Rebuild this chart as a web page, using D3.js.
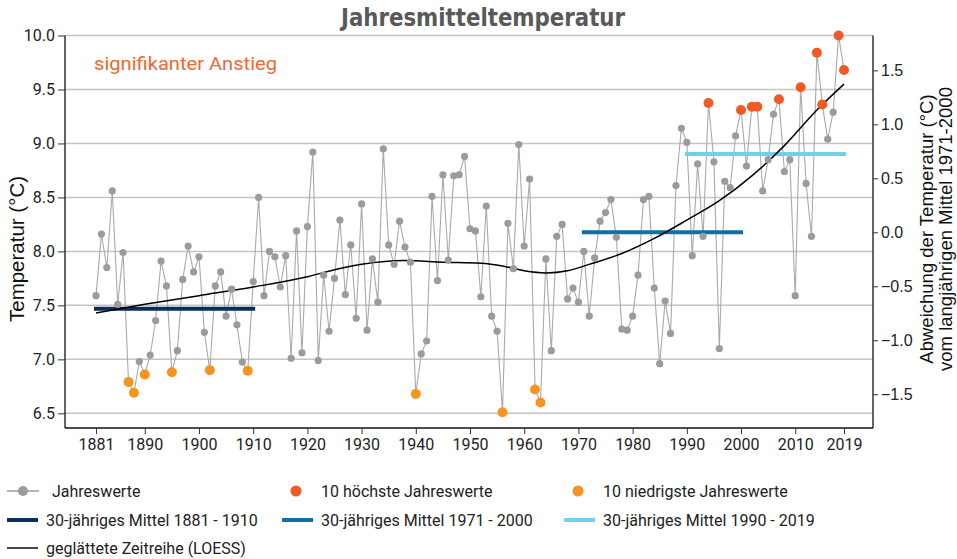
<!DOCTYPE html>
<html>
<head>
<meta charset="utf-8">
<script src="https://cdn.jsdelivr.net/npm/d3@7"></script>
<style>
  body { margin: 0; background: #fff; }
  text { font-family: Roboto, "Liberation Sans", sans-serif; }
</style>
</head>
<body>
<svg id="chart" width="957" height="559"></svg>
<script>
// yearly mean temperature, 1881 - 2019
let firstYear = 1881;
let temps = [
	7.59, 8.16, 7.85, 8.56, 7.51, 7.99, 6.79, 6.69, 6.98, 6.86,
	7.04, 7.36, 7.91, 7.68, 6.88, 7.08, 7.74, 8.05, 7.81, 7.95,
	7.25, 6.90, 7.68, 7.81, 7.40, 7.65, 7.32, 6.975, 6.895, 7.72,
	8.50, 7.59, 8.00, 7.95, 7.67, 7.96, 7.01, 8.19, 7.06, 8.23,
	8.92, 6.99, 7.78, 7.26, 7.75, 8.29, 7.60, 8.06, 7.38, 8.44,
	7.27, 7.93, 7.53, 8.95, 8.06, 7.88, 8.28, 8.04, 7.90, 6.68,
	7.05, 7.17, 8.51, 7.73, 8.71, 7.92, 8.70, 8.71, 8.88, 8.21,
	8.19, 7.58, 8.42, 7.40, 7.26, 6.51, 8.26, 7.84, 8.99, 8.05,
	8.67, 6.72, 6.60, 7.93, 7.08, 8.14, 8.25, 7.56, 7.66, 7.53,
	8.00, 7.40, 7.94, 8.28, 8.36, 8.48, 8.13, 7.28, 7.27, 7.40,
	7.78, 8.48, 8.51, 7.66, 6.96, 7.54, 7.24, 8.61, 9.14, 9.01,
	7.96, 8.81, 8.14, 9.375, 8.83, 7.10, 8.65, 8.59, 9.07, 9.31,
	8.79, 9.34, 9.34, 8.56, 8.85, 9.27, 9.41, 8.74, 8.85, 7.59,
	9.52, 8.63, 8.14, 9.84, 9.36, 9.04, 9.29, 10.0, 9.68
];

// smoothed series (LOESS)
let loessYears = [1881, 1890, 1900, 1910, 1920, 1925, 1930, 1938, 1945, 1952, 1956, 1960,
	1964, 1968, 1972, 1978, 1984, 1990, 1996, 2002, 2008, 2014, 2019];
let loessTemps = [7.43, 7.51, 7.59, 7.67, 7.765, 7.83, 7.88, 7.915, 7.90, 7.89, 7.865, 7.82,
	7.80, 7.82, 7.88, 7.98, 8.12, 8.29, 8.47, 8.70, 8.98, 9.31, 9.55];

let periods = [[1881, 1910], [1971, 2000], [1990, 2019]];
let periodColors = ["#0b2d5e", "#0f6fa6", "#6fd0f2"];
let refPeriod = 1; // 1971-2000 is the reference for the right axis

let xTicks = [1881, 1890, 1900, 1910, 1920, 1930, 1940, 1950, 1960, 1970, 1980, 1990, 2000, 2010, 2019];
let leftTicks = [6.5, 7.0, 7.5, 8.0, 8.5, 9.0, 9.5, 10.0];
let rightTicks = [-1.5, -1.0, -0.5, 0.0, 0.5, 1.0, 1.5];

let colGray = "#9b9b9d";
let colHigh = "#f15a24";
let colLow = "#f7931e";

let data = temps.map((t, i) => ({ year: firstYear + i, t: t }));
let sorted = data.slice().sort((a, b) => a.t - b.t);
let lowest = new Set(sorted.slice(0, 10).map(d => d.year));
let highest = new Set(sorted.slice(-10).map(d => d.year));

let means = periods.map(p => d3.mean(data.filter(d => d.year >= p[0] && d.year <= p[1]), d => d.t));
let refMean = means[refPeriod];

let plot = { left: 65, right: 873, top: 35.5, bottom: 428 };

let x = d3.scaleLinear().domain([1875.28, 2024.35]).range([plot.left, plot.right]);
let y = d3.scaleLinear().domain([6.364, 10.0]).range([plot.bottom, plot.top]);
let yr = d3.scaleLinear().domain([6.364 - refMean, 10.0 - refMean]).range([plot.bottom, plot.top]);

let svg = d3.select("#chart");

// title
svg.append("text")
	.attr("x", 483).attr("y", 26)
	.attr("text-anchor", "middle")
	.style("font-family", "'Liberation Sans Narrow', 'DejaVu Sans Condensed', Roboto, sans-serif")
	.style("font-weight", "bold")
	.style("font-size", "24px")
	.attr("textLength", 284).attr("lengthAdjust", "spacingAndGlyphs")
	.attr("fill", "#58595b")
	.text("Jahresmitteltemperatur");

// grid
svg.append("g").selectAll("line")
	.data(leftTicks)
	.enter().append("line")
	.attr("x1", plot.left).attr("x2", plot.right)
	.attr("y1", d => y(d)).attr("y2", d => y(d))
	.attr("stroke", "#c4c4c4")
	.attr("stroke-width", 1.5);

// axes
let axL = svg.append("g")
	.attr("transform", "translate(" + plot.left + ",0)")
	.call(d3.axisLeft(y).tickValues(leftTicks).tickFormat(d3.format(".1f")).tickSizeOuter(0).tickSize(7).tickPadding(3));
let axR = svg.append("g")
	.attr("transform", "translate(" + plot.right + ",0)")
	.call(d3.axisRight(yr).tickValues(rightTicks).tickFormat(d3.format(".1f")).tickSizeOuter(0).tickSize(5).tickPadding(3));
let axB = svg.append("g")
	.attr("transform", "translate(0," + plot.bottom + ")")
	.call(d3.axisBottom(x).tickValues(xTicks).tickFormat(d3.format("d")).tickSizeOuter(0).tickSize(6).tickPadding(5));

[axL, axB].forEach(a => {
	a.selectAll("text").style("font-size", "16px").style("font-family", "Roboto, sans-serif").attr("fill", "#222");
});
axR.selectAll("text").style("font-size", "16px").style("font-family", "'Liberation Sans', Arial, sans-serif").attr("fill", "#222");
[axL, axR, axB].forEach(a => {
	a.select(".domain").attr("stroke", "#111").attr("stroke-width", 1.3);
	a.selectAll(".tick line").attr("stroke", "#333");
});
// domain lines span the full plot
axL.select(".domain").attr("d", "M0," + plot.top + "V" + plot.bottom);
axR.select(".domain").attr("d", "M0," + plot.top + "V" + plot.bottom);
axB.select(".domain").attr("d", "M" + plot.left + ",0H" + plot.right);

// axis titles
svg.append("text")
	.attr("transform", "translate(24,249) rotate(-90)")
	.attr("text-anchor", "middle")
	.style("font-family", "'Liberation Sans', Arial, sans-serif")
	.style("font-size", "20.5px")
	.attr("fill", "#111")
	.text("Temperatur (°C)");
let rt = svg.append("text")
	.attr("transform", "translate(933,229) rotate(-90)")
	.attr("text-anchor", "middle")
	.style("font-family", "'Liberation Sans', Arial, sans-serif")
	.style("font-size", "18.5px")
	.attr("fill", "#111");
rt.append("tspan").attr("x", 0).attr("dy", 0).text("Abweichung der Temperatur (°C)");
rt.append("tspan").attr("x", 0).attr("dy", 19).text("vom langjährigen Mittel 1971-2000");

// note
svg.append("text")
	.attr("x", 94).attr("y", 70)
	.style("font-size", "18px")
	.attr("textLength", 183).attr("lengthAdjust", "spacingAndGlyphs")
	.attr("fill", "#f26632")
	.text("signifikanter Anstieg");

// yearly series line
svg.append("path")
	.datum(data)
	.attr("d", d3.line().x(d => x(d.year)).y(d => y(d.t)))
	.attr("fill", "none")
	.attr("stroke", "#aaaaab")
	.attr("stroke-width", 1.1);

// 30-year means
svg.append("g").selectAll("line")
	.data(periods)
	.enter().append("line")
	.attr("x1", d => x(d[0])).attr("x2", d => x(d[1]))
	.attr("y1", (d, i) => y(means[i])).attr("y2", (d, i) => y(means[i]))
	.attr("stroke", (d, i) => periodColors[i])
	.attr("stroke-width", 4)
	.attr("stroke-linecap", "square");

// LOESS
svg.append("path")
	.datum(loessYears.map((yy, i) => ({ year: yy, t: loessTemps[i] })))
	.attr("d", d3.line().x(d => x(d.year)).y(d => y(d.t)).curve(d3.curveMonotoneX))
	.attr("fill", "none")
	.attr("stroke", "#000")
	.attr("stroke-width", 1.5);

// points
svg.append("g").selectAll("circle")
	.data(data)
	.enter().append("circle")
	.attr("cx", d => x(d.year))
	.attr("cy", d => y(d.t))
	.attr("r", d => (highest.has(d.year) || lowest.has(d.year)) ? 5 : 3.6)
	.attr("fill", d => highest.has(d.year) ? colHigh : (lowest.has(d.year) ? colLow : colGray));

// legend
let legend = svg.append("g")
	.style("font-family", "'Liberation Sans Narrow', 'DejaVu Sans Condensed', Roboto, sans-serif")
	.style("font-size", "16px");
let legendItems = [
	{ kind: "series", label: "Jahreswerte", x: 7, y: 491 },
	{ kind: "dot", color: colHigh, label: "10 höchste Jahreswerte", x: 282, y: 491 },
	{ kind: "dot", color: colLow, label: "10 niedrigste Jahreswerte", x: 564, y: 491 },
	{ kind: "bar", color: periodColors[0], label: "30-jähriges Mittel 1881 - 1910", x: 7, y: 520 },
	{ kind: "bar", color: periodColors[1], label: "30-jähriges Mittel 1971 - 2000", x: 282, y: 520 },
	{ kind: "bar", color: periodColors[2], label: "30-jähriges Mittel 1990 - 2019", x: 564, y: 520 },
	{ kind: "thin", color: "#333", label: "geglättete Zeitreihe (LOESS)", x: 7, y: 548 }
];
legendItems.forEach(it => {
	let g = legend.append("g").attr("transform", "translate(" + it.x + "," + it.y + ")");
	if (it.kind === "series") {
		g.append("line").attr("x1", 0).attr("x2", 32).attr("stroke", colGray).attr("stroke-width", 1.5);
		g.append("circle").attr("cx", 16).attr("r", 5).attr("fill", colGray);
	} else if (it.kind === "dot") {
		g.append("circle").attr("cx", 14).attr("r", 5.5).attr("fill", it.color);
	} else {
		g.append("line").attr("x1", 0).attr("x2", 31)
			.attr("stroke", it.color)
			.attr("stroke-width", it.kind === "bar" ? 4 : 1.8);
	}
	g.append("text")
		.attr("x", it.kind === "series" ? 45 : 39)
		.attr("dy", "0.35em")
		.attr("fill", "#222")
		.text(it.label);
});
</script>
</body>
</html>
